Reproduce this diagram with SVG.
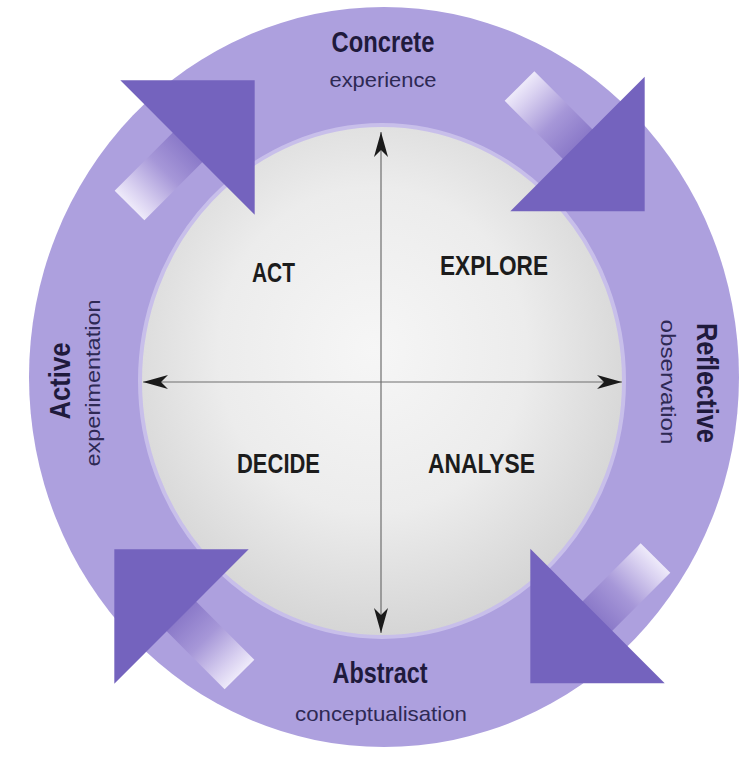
<svg xmlns="http://www.w3.org/2000/svg" xmlns:xlink="http://www.w3.org/1999/xlink" width="747" height="759" viewBox="0 0 747 759">
  <style>
    .bold { font-family: "Liberation Sans Narrow", "Liberation Sans", Arial, sans-serif; font-weight: bold; fill: #1f1a3c; }
    .quad { font-family: "Liberation Sans Narrow", "Liberation Sans", Arial, sans-serif; font-weight: bold; fill: #1c1c1c; font-size: 28px; }
    .light { font-family: "Liberation Sans", Arial, sans-serif; font-weight: normal; fill: #2e2954; font-size: 21px; }
    .axis { stroke: #6e6e6e; stroke-width: 1.2; fill: none; marker-start: url(#head); marker-end: url(#head); }
  </style>
  <defs>
    <radialGradient id="coreGrad" cx="48%" cy="44%" r="58%">
      <stop offset="0" stop-color="#f6f6f6"/>
      <stop offset="0.55" stop-color="#ececec"/>
      <stop offset="1" stop-color="#d3d3d3"/>
    </radialGradient>
    <linearGradient id="tailGrad" gradientUnits="userSpaceOnUse" x1="-82" y1="0" x2="0" y2="0">
      <stop offset="0" stop-color="#eeeafa"/>
      <stop offset="0.18" stop-color="#dad2f1"/>
      <stop offset="0.6" stop-color="#a697d8"/>
      <stop offset="1" stop-color="#8b7ac9"/>
    </linearGradient>
    <marker id="head" viewBox="-26 -8 28 16" markerWidth="28" markerHeight="16" refX="0" refY="0" markerUnits="userSpaceOnUse" orient="auto-start-reverse">
      <path d="M0,0 L-25,-7 L-18,0 L-25,7 Z" fill="#1a1a1a"/>
    </marker>
    <g id="arrow">
      <rect x="-82" y="-21" width="100" height="42" fill="url(#tailGrad)"/>
      <polygon points="0,-95 95,0 0,95" fill="#7463be"/>
    </g>
  </defs>

  <rect width="747" height="759" fill="#ffffff"/>

  <g id="ring">
    <ellipse cx="384" cy="377" rx="355" ry="370" fill="#ada0de"/>
  </g>

  <g id="core">
    <ellipse cx="382" cy="381" rx="242" ry="256" fill="url(#coreGrad)" stroke="#c8bfea" stroke-width="4"/>
  </g>

  <g id="connectors">
    <line class="axis" x1="381" y1="633" x2="381" y2="132"/>
    <line class="axis" x1="143" y1="382" x2="622" y2="382"/>
  </g>

  <g id="arrows">
    <use id="arrow-top-left" xlink:href="#arrow" transform="translate(187.5,147.5) rotate(-45)"/>
    <use id="arrow-top-right" xlink:href="#arrow" transform="translate(577.5,144) rotate(45)"/>
    <use id="arrow-bottom-right" xlink:href="#arrow" transform="translate(597.5,616) rotate(135)"/>
    <use id="arrow-bottom-left" xlink:href="#arrow" transform="translate(181.5,616.5) rotate(225)"/>
  </g>

  <g id="concrete">
    <text class="bold" x="383" y="52" font-size="29" text-anchor="middle" textLength="103" lengthAdjust="spacingAndGlyphs">Concrete</text>
    <text class="light" x="383" y="87" text-anchor="middle" textLength="107" lengthAdjust="spacingAndGlyphs">experience</text>
  </g>

  <g id="reflective">
    <text class="bold" transform="translate(697,383) rotate(90)" font-size="29" text-anchor="middle" textLength="120" lengthAdjust="spacingAndGlyphs">Reflective</text>
    <text class="light" transform="translate(661,382) rotate(90)" text-anchor="middle" textLength="125" lengthAdjust="spacingAndGlyphs">observation</text>
  </g>

  <g id="abstract">
    <text class="bold" x="380" y="683" font-size="29" text-anchor="middle" textLength="95" lengthAdjust="spacingAndGlyphs">Abstract</text>
    <text class="light" x="381" y="721" text-anchor="middle" textLength="172" lengthAdjust="spacingAndGlyphs">conceptualisation</text>
  </g>

  <g id="active">
    <text class="bold" transform="translate(70,381) rotate(-90)" font-size="29" text-anchor="middle" textLength="77" lengthAdjust="spacingAndGlyphs">Active</text>
    <text class="light" transform="translate(100,383) rotate(-90)" text-anchor="middle" textLength="167" lengthAdjust="spacingAndGlyphs">experimentation</text>
  </g>

  <g id="act"><text class="quad" x="252" y="282" textLength="43" lengthAdjust="spacingAndGlyphs">ACT</text></g>
  <g id="explore"><text class="quad" x="440" y="275" textLength="108" lengthAdjust="spacingAndGlyphs">EXPLORE</text></g>
  <g id="decide"><text class="quad" x="237" y="473" textLength="83" lengthAdjust="spacingAndGlyphs">DECIDE</text></g>
  <g id="analyse"><text class="quad" x="428" y="473" textLength="107" lengthAdjust="spacingAndGlyphs">ANALYSE</text></g>
</svg>
